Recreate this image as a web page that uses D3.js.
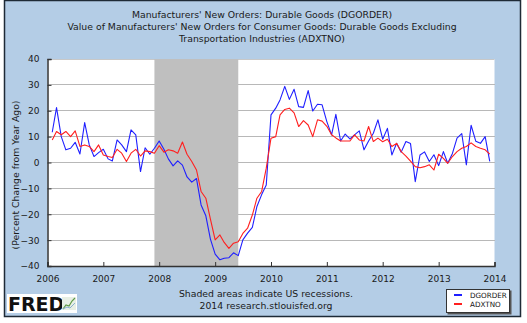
<!DOCTYPE html>
<html><head><meta charset="utf-8">
<script src="https://cdn.jsdelivr.net/npm/d3@7"></script>
<style>body{margin:0;background:#fff}svg{display:block}text{font-family:"DejaVu Sans",Verdana,sans-serif}</style>
</head><body>
<script>
const titleLines = ["Manufacturers' New Orders: Durable Goods (DGORDER)",
  "Value of Manufacturers' New Orders for Consumer Goods: Durable Goods Excluding",
  "Transportation Industries (ADXTNO)"];
const yAxisTitle = "(Percent Change from Year Ago)";
const footerLines = ["Shaded areas indicate US recessions.", "2014 research.stlouisfed.org"];
const seriesNames = ["DGORDER", "ADXTNO"];
const firstMonth = "2006-02-01";
const lastMonth = "2013-12-01";
const recession = ["2007-12-01", "2009-06-01"];
const yTicks = [-40, -30, -20, -10, 0, 10, 20, 30, 40];
const xTickYears = [2006, 2007, 2008, 2009, 2010, 2011, 2012, 2013, 2014];
// monthly % change from year ago, Feb 2006 .. Dec 2013
const dgorder = [11.7,21.2,10.0,4.9,5.5,7.8,3.3,15.4,6.8,2.3,3.8,
  5.1,1.4,0.6,8.7,6.8,4.2,12.6,10.7,-3.5,5.7,3.2,5.5,
  8.3,5.1,1.4,-1.3,0.6,-1.0,-5.6,-7.6,-6.2,-16.4,-20.6,-29.6,
  -35.4,-37.6,-37.0,-36.8,-34.9,-36.0,-29.9,-27.3,-25.1,-17.0,-12.4,-8.7,
  18.4,21.0,24.2,29.4,24.4,28.3,21.6,21.3,27.8,19.9,22.5,22.3,
  15.8,10.7,18.6,8.3,11.0,9.1,10.7,12.2,4.9,8.3,11.3,16.5,
  9.0,13.2,2.9,7.4,4.0,8.1,7.3,-7.4,2.9,4.1,0.4,3.0,
  -1.2,4.2,-0.3,3.5,9.4,11.2,-0.9,14.4,8.2,7.4,10.0,0.4];
const adxtno = [8.7,12.0,10.7,12.0,10.0,12.2,6.2,6.8,6.2,4.2,6.8,
  2.9,2.3,1.9,5.1,3.6,0.4,3.6,5.1,2.5,4.5,4.2,3.6,
  6.5,4.0,4.9,4.5,3.6,7.9,3.2,0.4,-2.9,-11.2,-13.8,-21.9,
  -29.9,-28.0,-30.9,-33.2,-31.2,-30.6,-27.4,-25.4,-20.3,-13.8,-11.2,-2.2,
  9.4,10.0,18.4,20.5,21.0,19.2,13.9,16.2,14.5,10.0,16.5,16.0,
  14.0,10.7,9.5,8.3,8.3,8.3,10.7,8.7,8.3,13.9,8.1,9.4,
  8.0,9.0,6.2,7.4,4.2,2.5,0.5,-1.6,-2.0,-1.6,-0.9,-2.9,
  3.2,1.6,-0.3,2.3,4.2,5.5,6.2,7.6,6.2,5.5,4.9,3.2];
const colors = ["#1f1fff", "#ff1f1f"];

const W = 527, H = 323;
const svg = d3.select("body").append("svg").attr("width", W).attr("height", H);
const parse = d3.utcParse("%Y-%m-%d");
const months = d3.utcMonth.range(parse(firstMonth), d3.utcMonth.offset(parse(lastMonth), 1));

// background panel
svg.append("rect").attr("x", 4.5).attr("y", 0.5).attr("width", 516).attr("height", 316)
  .attr("fill", "#b4cde6").attr("stroke", "#1e2a36").attr("stroke-width", 1.5);

const L = 47.5, R = 494.5, T = 59, B = 266;
const x = d3.scaleUtc().domain([parse("2006-01-01"), parse("2014-01-01")]).range([L, R]);
const y = d3.scaleLinear().domain([-40, 40]).range([B, T]);

svg.append("rect").attr("x", L).attr("y", T).attr("width", R - L).attr("height", B - T).attr("fill", "#fff");

// gridlines
svg.append("g").selectAll("line").data(yTicks.slice(1, -1)).join("line")
  .attr("x1", L).attr("x2", R).attr("y1", d => y(d)).attr("y2", d => y(d))
  .attr("stroke", "#b8b8b8").attr("stroke-width", 1).attr("shape-rendering", "crispEdges");
svg.append("line").attr("x1", L).attr("x2", R).attr("y1", T + 0.5).attr("y2", T + 0.5)
  .attr("stroke", "#c8c8c8");

// recession
svg.append("rect").attr("x", x(parse(recession[0]))).attr("y", T)
  .attr("width", x(parse(recession[1])) - x(parse(recession[0]))).attr("height", B - T)
  .attr("fill", "#bfbfbf");

// axes
const yAxis = d3.axisLeft(y).tickValues(yTicks).tickSize(-4).tickPadding(8);
const gy = svg.append("g").attr("transform", `translate(${L},0)`).call(yAxis);
const xAxis = d3.axisBottom(x).tickValues(xTickYears.map(v => parse(v + "-01-01")))
  .tickFormat(d3.utcFormat("%Y")).tickSize(-4).tickPadding(8);
const gx = svg.append("g").attr("transform", `translate(0,${B})`).call(xAxis);
[gx, gy].forEach(g => {
  g.select(".domain").attr("stroke", "#333").attr("stroke-width", 1.5);
  g.selectAll(".tick line").attr("stroke", "#333");
  g.selectAll("text").attr("fill", "#1a1a1a").attr("font-size", 9)
    .attr("font-family", '"DejaVu Sans",Verdana,sans-serif');
});
gx.selectAll("text").attr("dy", "0.9em");

// lines
const series = [dgorder, adxtno];
const line = d3.line().x((d, i) => x(months[i])).y(d => y(d));
series.forEach((s, k) => {
  svg.append("path").datum(s).attr("d", line).attr("fill", "none")
    .attr("stroke", colors[k]).attr("stroke-width", 1.1).attr("stroke-linejoin", "round");
});

// titles
svg.append("g").selectAll("text").data(titleLines).join("text")
  .attr("x", 262).attr("y", (d, i) => 18 + i * 12).attr("text-anchor", "middle")
  .attr("font-size", 9.3).attr("fill", "#1a1a1a").text(d => d);

svg.append("text").attr("transform", "translate(19,175) rotate(-90)").attr("text-anchor", "middle")
  .attr("font-size", 9.3).attr("fill", "#1a1a1a").text(yAxisTitle);

svg.append("g").selectAll("text").data(footerLines).join("text")
  .attr("x", 266).attr("y", (d, i) => 297 + i * 12).attr("text-anchor", "middle")
  .attr("font-size", 9.3).attr("fill", "#1a1a1a").text(d => d);

// legend
const lg = svg.append("g").attr("transform", "translate(446,289)");
lg.append("rect").attr("x", 1.5).attr("y", 1.5).attr("width", 64).attr("height", 24).attr("fill", "#555");
lg.append("rect").attr("x", 0.5).attr("y", 0.5).attr("width", 63).attr("height", 23)
  .attr("fill", "#fff").attr("stroke", "#333");
seriesNames.forEach((n, k) => {
  lg.append("line").attr("x1", 8).attr("x2", 16).attr("y1", 6 + k * 9).attr("y2", 6 + k * 9)
    .attr("stroke", colors[k]).attr("stroke-width", 2);
  lg.append("text").attr("x", 24).attr("y", 9 + k * 9).attr("font-size", 7.2).attr("fill", "#111").text(n);
});

// FRED logo
const fg = svg.append("g").attr("transform", "translate(7,294)");
fg.append("rect").attr("width", 70).attr("height", 19).attr("fill", "#fff");
fg.append("text").attr("x", 1).attr("y", 16.5).attr("font-family", '"Liberation Sans",Arial,sans-serif')
  .attr("font-weight", "bold").attr("font-size", 19).attr("fill", "#111").text("FRED");
fg.append("rect").attr("x", 55).attr("y", 3).attr("width", 14).attr("height", 13).attr("fill", "#e8efe4");
fg.append("path").attr("d", "M56,15 L59,11 L62,12 L65,7 L68,4").attr("fill", "none")
  .attr("stroke", "#5f9a46").attr("stroke-width", 1.2);
fg.append("path").attr("d", "M56,15 L60,13 L63,14 L68,9").attr("fill", "none")
  .attr("stroke", "#8ab0d0").attr("stroke-width", 1);
</script>
</body></html>
